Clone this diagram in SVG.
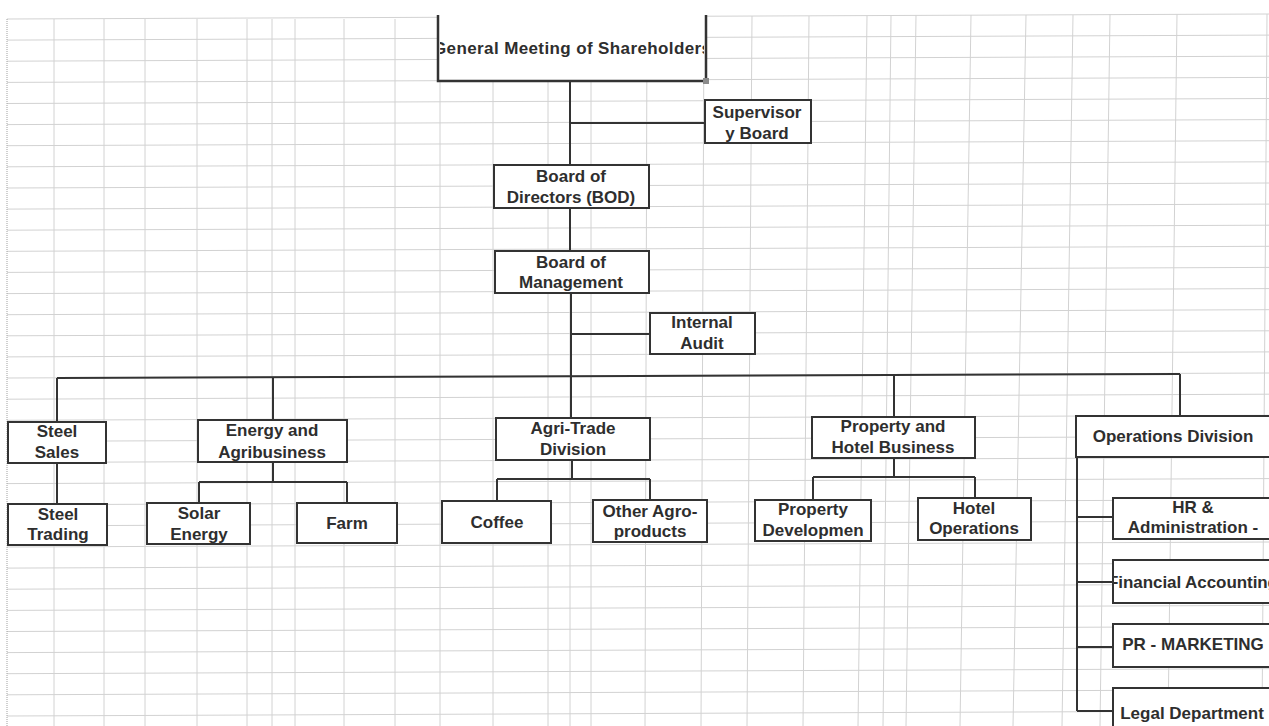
<svg xmlns="http://www.w3.org/2000/svg" width="1269" height="726" viewBox="0 0 1269 726">
<style>
.grid line{stroke:#d2d2d2;stroke-width:1}
.box{fill:#fff;stroke:#333;stroke-width:2}
.conn path{stroke:#333;stroke-width:2;fill:none}
text{font-family:"Liberation Sans",Arial,sans-serif;font-weight:bold;font-size:17px;fill:#2e2e2e;text-anchor:middle}
</style>
<defs>
<clipPath id="cgm"><rect x="440" y="16" width="264" height="64"/></clipPath>
<clipPath id="cfin"><rect x="1114" y="561" width="170" height="41"/></clipPath>
</defs>
<rect width="1269" height="726" fill="#fff"/>
<g class="grid">
<line x1="7" y1="19" x2="1269" y2="14"/>
<line x1="7" y1="40.1" x2="1269" y2="35.1"/>
<line x1="7" y1="61.2" x2="1269" y2="56.2"/>
<line x1="7" y1="82.4" x2="1269" y2="77.4"/>
<line x1="7" y1="103.5" x2="1269" y2="98.5"/>
<line x1="7" y1="124.6" x2="1269" y2="119.6"/>
<line x1="7" y1="145.7" x2="1269" y2="140.7"/>
<line x1="7" y1="166.8" x2="1269" y2="161.8"/>
<line x1="7" y1="188" x2="1269" y2="183"/>
<line x1="7" y1="209.1" x2="1269" y2="204.1"/>
<line x1="7" y1="230.2" x2="1269" y2="225.2"/>
<line x1="7" y1="251.3" x2="1269" y2="246.3"/>
<line x1="7" y1="272.4" x2="1269" y2="267.4"/>
<line x1="7" y1="293.6" x2="1269" y2="288.6"/>
<line x1="7" y1="314.7" x2="1269" y2="309.7"/>
<line x1="7" y1="335.8" x2="1269" y2="330.8"/>
<line x1="7" y1="356.9" x2="1269" y2="351.9"/>
<line x1="7" y1="378" x2="1269" y2="373"/>
<line x1="7" y1="399.2" x2="1269" y2="394.2"/>
<line x1="7" y1="420.3" x2="1269" y2="415.3"/>
<line x1="7" y1="441.4" x2="1269" y2="436.4"/>
<line x1="7" y1="462.5" x2="1269" y2="457.5"/>
<line x1="7" y1="483.6" x2="1269" y2="478.6"/>
<line x1="7" y1="504.8" x2="1269" y2="499.8"/>
<line x1="7" y1="525.9" x2="1269" y2="520.9"/>
<line x1="7" y1="547" x2="1269" y2="542"/>
<line x1="7" y1="568.1" x2="1269" y2="563.1"/>
<line x1="7" y1="589.2" x2="1269" y2="584.2"/>
<line x1="7" y1="610.4" x2="1269" y2="605.4"/>
<line x1="7" y1="631.5" x2="1269" y2="626.5"/>
<line x1="7" y1="652.6" x2="1269" y2="647.6"/>
<line x1="7" y1="673.7" x2="1269" y2="668.7"/>
<line x1="7" y1="694.8" x2="1269" y2="689.8"/>
<line x1="7" y1="716" x2="1269" y2="711"/>
<line x1="54" y1="19" x2="54" y2="726"/>
<line x1="104" y1="19" x2="104" y2="726"/>
<line x1="145" y1="19" x2="145" y2="726"/>
<line x1="197" y1="19" x2="197" y2="726"/>
<line x1="247" y1="19" x2="247" y2="726"/>
<line x1="272" y1="19" x2="272" y2="726"/>
<line x1="295" y1="19" x2="295" y2="726"/>
<line x1="344" y1="19" x2="344" y2="726"/>
<line x1="395" y1="19" x2="395" y2="726"/>
<line x1="440" y1="18" x2="440" y2="726"/>
<line x1="493" y1="18" x2="493" y2="726"/>
<line x1="548" y1="18" x2="548" y2="726"/>
<line x1="570" y1="18" x2="570" y2="726"/>
<line x1="591" y1="18" x2="591" y2="726"/>
<line x1="647" y1="17" x2="645" y2="726"/>
<line x1="704" y1="17" x2="701" y2="726"/>
<line x1="752" y1="16" x2="747" y2="726"/>
<line x1="809" y1="16" x2="803" y2="726"/>
<line x1="867" y1="16" x2="858" y2="726"/>
<line x1="891" y1="16" x2="883" y2="726"/>
<line x1="916" y1="15" x2="906" y2="726"/>
<line x1="971" y1="15" x2="960" y2="726"/>
<line x1="1026" y1="15" x2="1013" y2="726"/>
<line x1="1073" y1="15" x2="1062" y2="726"/>
<line x1="1110" y1="14" x2="1100" y2="726"/>
<line x1="1177" y1="14" x2="1168" y2="726"/>
<line x1="1267" y1="14" x2="1262" y2="726"/>
<line x1="7" y1="19" x2="7" y2="726" style="stroke:#a0a0a0;stroke-dasharray:1 1"/>
</g>
<g class="conn" id="connectors">
<path d="M570,81 V165"/>
<path d="M570,123 H705"/>
<path d="M570,208 V251"/>
<path d="M571,293 V377"/>
<path d="M571,334 H650"/>
<path d="M57,378 L1180,374"/>
<path d="M57,378 V422"/>
<path d="M273,377 V420"/>
<path d="M571,376 V418"/>
<path d="M894,375 V417"/>
<path d="M1180,374 V415"/>
<path d="M57,463 V504"/>
<path d="M273,462 V482 M199,482 H347 M199,482 V503 M347,482 V503"/>
<path d="M572,460 V479 M497,479 H650 M497,479 V501 M650,479 V500"/>
<path d="M894,458 V477 M813,477 H975 M813,477 V500 M975,477 V498"/>
<path d="M1077,416 V711 M1077,517 H1113 M1077,582 H1113 M1077,647 H1113 M1077,711 H1113"/>
</g>
<g id="gm">
<rect x="438" y="15" width="268" height="66" fill="#fff"/>
<path d="M438,15 V81 H706 V15" fill="none" stroke="#333" stroke-width="2.5"/>
<rect x="703" y="78" width="6" height="6" fill="#8a8a8a"/>
<text x="572" y="54" clip-path="url(#cgm)" textLength="278" lengthAdjust="spacing">General Meeting of Shareholders</text>
</g>
<g id="supervisory"><rect class="box" x="705" y="100" width="106" height="43"/><text x="757" y="118">Supervisor</text><text x="757" y="139">y Board</text></g>
<g id="bod"><rect class="box" x="494" y="165" width="155" height="43"/><text x="571" y="182">Board of</text><text x="571" y="203">Directors (BOD)</text></g>
<g id="bom"><rect class="box" x="495" y="251" width="154" height="42"/><text x="571" y="268">Board of</text><text x="571" y="288">Management</text></g>
<g id="audit"><rect class="box" x="650" y="313" width="105" height="41"/><text x="702" y="328">Internal</text><text x="702" y="349">Audit</text></g>
<g id="steelsales"><rect class="box" x="8" y="422" width="98" height="41"/><text x="57" y="437">Steel</text><text x="57" y="458">Sales</text></g>
<g id="steeltrading"><rect class="box" x="8" y="504" width="99" height="41"/><text x="58" y="520">Steel</text><text x="58" y="540">Trading</text></g>
<g id="energy"><rect class="box" x="198" y="420" width="149" height="42"/><text x="272" y="436">Energy and</text><text x="272" y="458">Agribusiness</text></g>
<g id="solar"><rect class="box" x="147" y="503" width="103" height="41"/><text x="199" y="519">Solar</text><text x="199" y="540">Energy</text></g>
<g id="farm"><rect class="box" x="297" y="503" width="100" height="40"/><text x="347" y="529">Farm</text></g>
<g id="agri"><rect class="box" x="496" y="418" width="154" height="42"/><text x="573" y="434">Agri-Trade</text><text x="573" y="455">Division</text></g>
<g id="coffee"><rect class="box" x="442" y="501" width="109" height="42"/><text x="497" y="528">Coffee</text></g>
<g id="otheragro"><rect class="box" x="593" y="500" width="114" height="42"/><text x="650" y="517">Other Agro-</text><text x="650" y="537">products</text></g>
<g id="property"><rect class="box" x="812" y="417" width="163" height="41"/><text x="893" y="432">Property and</text><text x="893" y="453">Hotel Business</text></g>
<g id="propdev"><rect class="box" x="755" y="500" width="116" height="41"/><text x="813" y="515">Property</text><text x="813" y="536">Developmen</text></g>
<g id="hotel"><rect class="box" x="918" y="498" width="113" height="42"/><text x="974" y="514">Hotel</text><text x="974" y="534">Operations</text></g>
<g id="operations"><rect class="box" x="1076" y="416" width="210" height="41"/><text x="1173" y="442">Operations Division</text></g>
<g id="hr"><rect class="box" x="1113" y="498" width="170" height="41"/><text x="1193" y="513">HR &amp;</text><text x="1193" y="533">Administration -</text></g>
<g id="finance"><rect class="box" x="1113" y="560" width="170" height="43"/><text x="1193" y="588" clip-path="url(#cfin)" textLength="170" lengthAdjust="spacing">Financial Accounting</text></g>
<g id="pr"><rect class="box" x="1113" y="624" width="170" height="43"/><text x="1193" y="650">PR - MARKETING</text></g>
<g id="legal"><rect class="box" x="1113" y="688" width="170" height="50"/><text x="1192" y="719">Legal Department</text></g>
</svg>
